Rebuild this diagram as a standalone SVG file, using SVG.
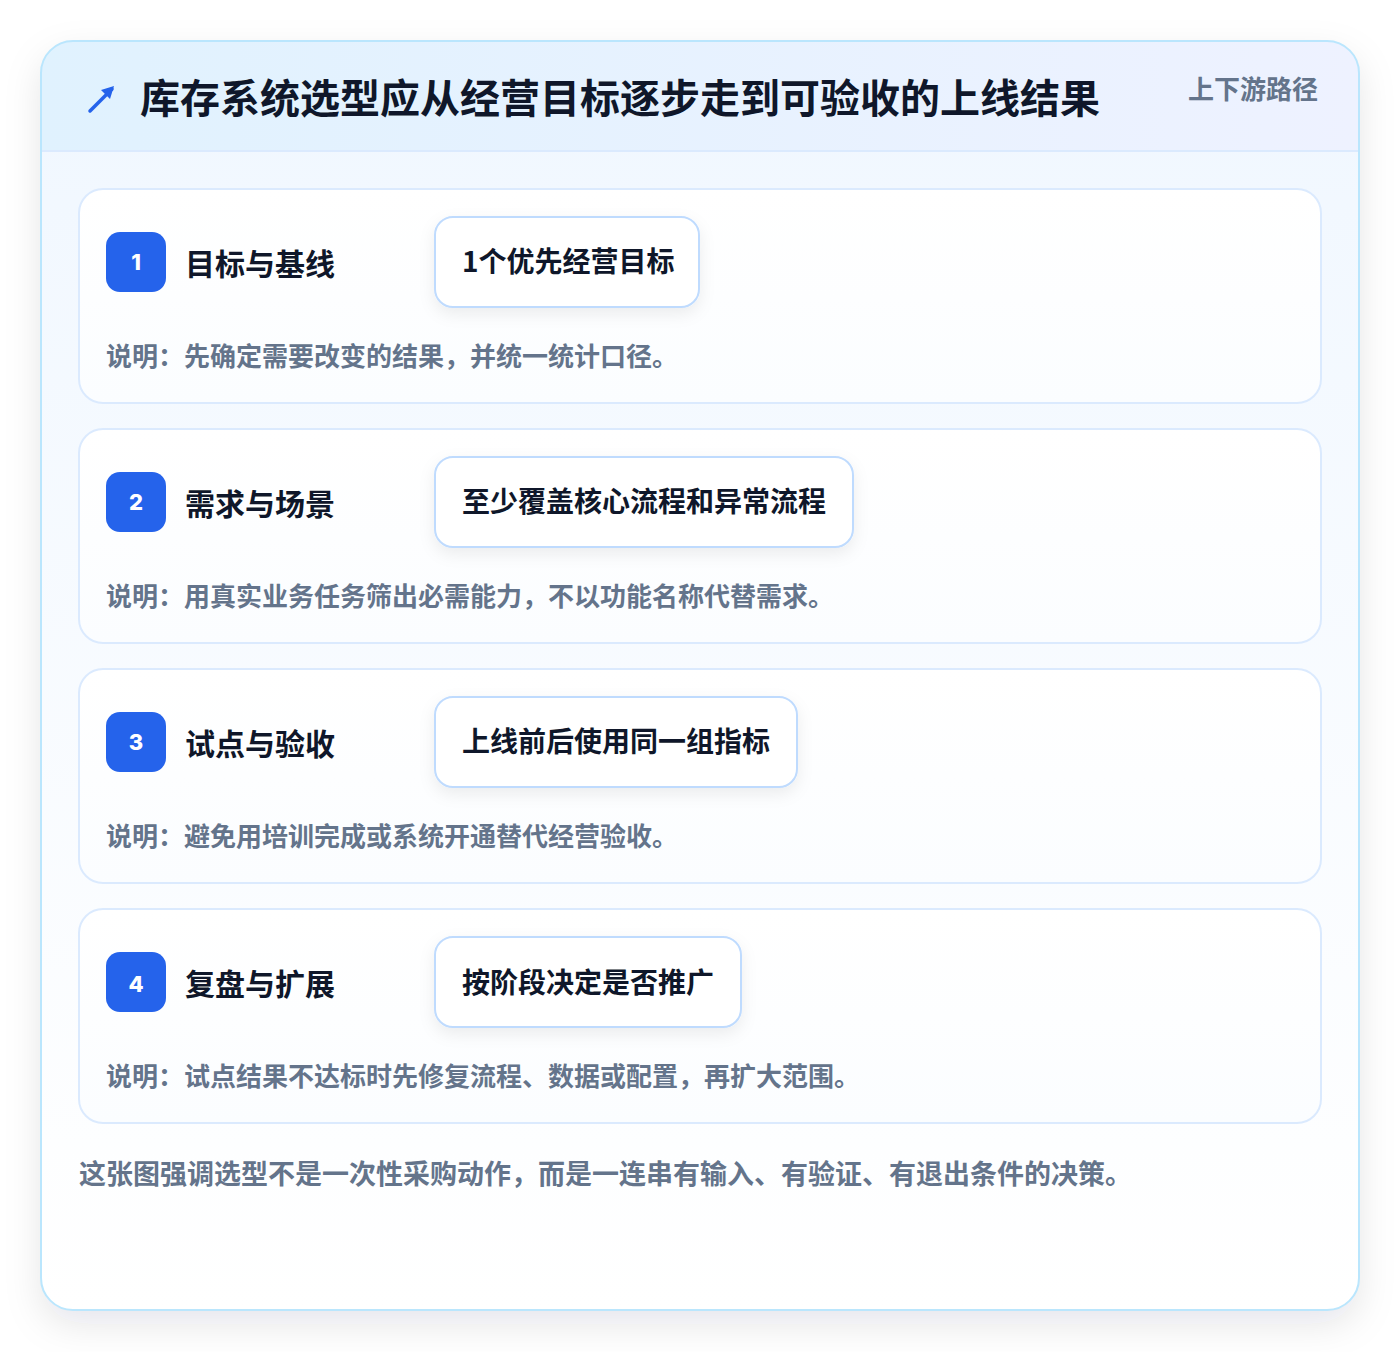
<svg xmlns="http://www.w3.org/2000/svg" width="1400" height="1352" viewBox="0 0 1400 1352">
<defs>
<linearGradient id="hdr" x1="0" y1="0" x2="1" y2="0"><stop offset="0" stop-color="#e0f2fe"/><stop offset="1" stop-color="#eef2ff"/></linearGradient>
<linearGradient id="body" x1="0" y1="0" x2="0" y2="1"><stop offset="0" stop-color="#f0f7ff"/><stop offset="1" stop-color="#ffffff"/></linearGradient>
<linearGradient id="card" x1="0" y1="0" x2="0" y2="1"><stop offset="0" stop-color="#ffffff"/><stop offset="1" stop-color="#fbfdff"/></linearGradient>
<filter id="sh" x="-10%" y="-10%" width="120%" height="125%"><feDropShadow dx="0" dy="14" stdDeviation="18" flood-color="#0f172a" flood-opacity="0.10"/></filter>
<filter id="psh" x="-20%" y="-30%" width="140%" height="170%"><feDropShadow dx="0" dy="6" stdDeviation="8" flood-color="#0f172a" flood-opacity="0.07"/></filter>
<clipPath id="outerClip"><rect x="41" y="41" width="1318" height="1269" rx="32"/></clipPath>
<style>
text{font-family:"Noto Sans CJK SC","Liberation Sans",sans-serif;font-weight:700}
.card{fill:url(#card);stroke:#dbeafe;stroke-width:2}
.badge{fill:#2563eb}
.num{fill:#ffffff;font-size:22px;font-family:"Inter","Noto Sans CJK SC",sans-serif;font-weight:800}
.title{fill:#0f172a;font-size:30px}
.pill{fill:#ffffff;stroke:#bfdbfe;stroke-width:2}
.ptxt{fill:#0f172a;font-size:28px}
.desc{fill:#64748b;font-size:26px}
</style>
</defs>
<rect width="1400" height="1352" fill="#ffffff"/>
<g id="frame">
<rect x="41" y="41" width="1318" height="1269" rx="32" fill="url(#body)" filter="url(#sh)"/>
<g clip-path="url(#outerClip)">
<rect x="41" y="41" width="1318" height="110" fill="url(#hdr)"/>
<line x1="41" y1="151" x2="1359" y2="151" stroke="#dbeafe" stroke-width="2"/>
</g>
<rect x="41" y="41" width="1318" height="1269" rx="32" fill="none" stroke="#bae6fd" stroke-width="2"/>
</g>
<g id="header">
<g stroke="#2563eb" stroke-width="3.5" stroke-linecap="round" fill="none"><line x1="90" y1="111" x2="112" y2="89"/></g>
<polygon points="114,86 101,90 110,99" fill="#2563eb"/>
<text x="140" y="113" font-size="40" fill="#0f172a">库存系统选型应从经营目标逐步走到可验收的上线结果</text>
<text x="1318" y="99" font-size="26" fill="#64748b" text-anchor="end">上下游路径</text>
</g>
<g id="step1">
<rect class="card" x="79" y="189" width="1242" height="214" rx="24"/>
<rect class="badge" x="106" y="232" width="60" height="60" rx="14"/>
<text class="num" x="136" y="270" text-anchor="middle">1</text>
<text class="title" x="185" y="275">目标与基线</text>
<rect class="pill" x="435" y="217" width="264" height="90" rx="18" filter="url(#psh)"/>
<text class="ptxt" x="462" y="272">1个优先经营目标</text>
<text class="desc" x="106" y="366">说明：先确定需要改变的结果，并统一统计口径。</text>
</g>
<g id="step2">
<rect class="card" x="79" y="429" width="1242" height="214" rx="24"/>
<rect class="badge" x="106" y="472" width="60" height="60" rx="14"/>
<text class="num" x="136" y="510" text-anchor="middle">2</text>
<text class="title" x="185" y="515">需求与场景</text>
<rect class="pill" x="435" y="457" width="418" height="90" rx="18" filter="url(#psh)"/>
<text class="ptxt" x="462" y="512">至少覆盖核心流程和异常流程</text>
<text class="desc" x="106" y="606">说明：用真实业务任务筛出必需能力，不以功能名称代替需求。</text>
</g>
<g id="step3">
<rect class="card" x="79" y="669" width="1242" height="214" rx="24"/>
<rect class="badge" x="106" y="712" width="60" height="60" rx="14"/>
<text class="num" x="136" y="750" text-anchor="middle">3</text>
<text class="title" x="185" y="755">试点与验收</text>
<rect class="pill" x="435" y="697" width="362" height="90" rx="18" filter="url(#psh)"/>
<text class="ptxt" x="462" y="752">上线前后使用同一组指标</text>
<text class="desc" x="106" y="846">说明：避免用培训完成或系统开通替代经营验收。</text>
</g>
<g id="step4">
<rect class="card" x="79" y="909" width="1242" height="214" rx="24"/>
<rect class="badge" x="106" y="952" width="60" height="60" rx="14"/>
<text class="num" x="136" y="992" text-anchor="middle">4</text>
<text class="title" x="185" y="995">复盘与扩展</text>
<rect class="pill" x="435" y="937" width="306" height="90" rx="18" filter="url(#psh)"/>
<text class="ptxt" x="462" y="993">按阶段决定是否推广</text>
<text class="desc" x="106" y="1086">说明：试点结果不达标时先修复流程、数据或配置，再扩大范围。</text>
</g>
<g id="connectors"></g>
<g id="footer">
<text x="79" y="1184" font-size="27" fill="#64748b">这张图强调选型不是一次性采购动作，而是一连串有输入、有验证、有退出条件的决策。</text>
</g>
</svg>
